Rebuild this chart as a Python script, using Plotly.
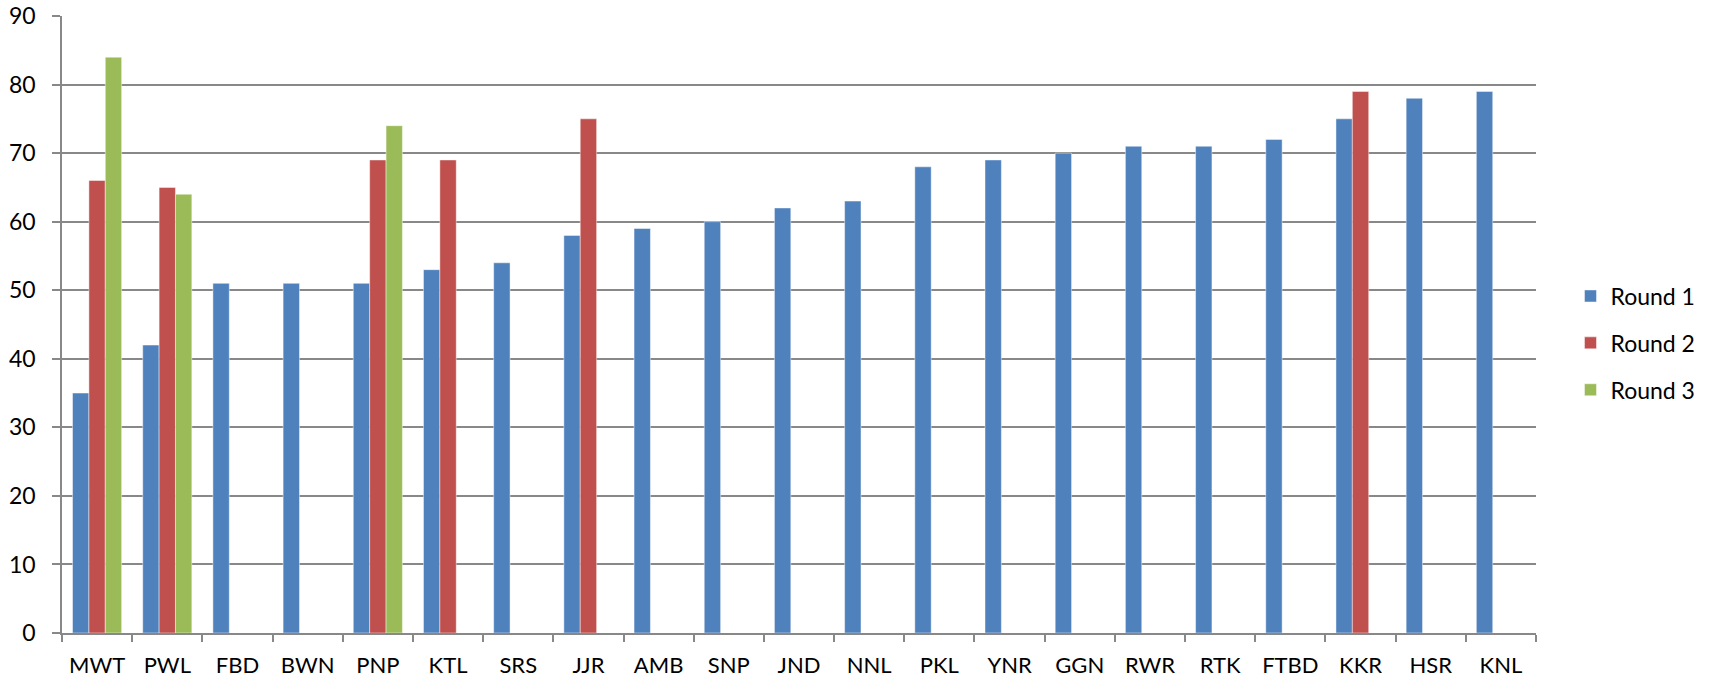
import plotly.graph_objects as go

categories = ["MWT", "PWL", "FBD", "BWN", "PNP", "KTL", "SRS", "JJR", "AMB", "SNP", "JND",
              "NNL", "PKL", "YNR", "GGN", "RWR", "RTK", "FTBD", "KKR", "HSR", "KNL"]
round1 = [35, 42, 51, 51, 51, 53, 54, 58, 59, 60, 62, 63, 68, 69, 70, 71, 71, 72, 75, 78, 79]
round2 = [66, 65, None, None, 69, 69, None, 75, None, None, None, None, None, None, None,
          None, None, None, 79, None, None]
round3 = [84, 64, None, None, 74, None, None, None, None, None, None, None, None, None, None,
          None, None, None, None, None, None]
y_ticks = [0, 10, 20, 30, 40, 50, 60, 70, 80, 90]

series = [("Round 1", round1, "#4F81BD"), ("Round 2", round2, "#C0504D"), ("Round 3", round3, "#9BBB59")]

fig = go.Figure()
for name, vals, col in series:
    fig.add_trace(go.Bar(x=categories, y=vals, name=name, legendgroup=name,
                         marker=dict(color=col, line=dict(color="rgba(255,255,255,0.45)", width=1))))

grid = "#888888"
fig.update_layout(
    width=1713, height=680,
    margin=dict(l=62, r=174, t=16, b=47),
    paper_bgcolor="white", plot_bgcolor="white",
    barmode="group", bargap=0.3, bargroupgap=0,
    font=dict(family="Lato, Liberation Sans, sans-serif", size=23, color="#000000"),
    legend=dict(x=1.0234, y=0.47, xanchor="left", yanchor="middle", traceorder="grouped",
                tracegroupgap=14, font=dict(size=23), itemwidth=30),
    showlegend=True,
)
fig.update_xaxes(type="category", showline=True, linecolor=grid, linewidth=1.5,
                 ticks="outside", ticklen=7, tickcolor=grid, tickwidth=1.5,
                 tickson="boundaries", showgrid=False, ticklabelstandoff=12, automargin=False,
                 tickfont=dict(size=22))
fig.update_yaxes(range=[0, 90], tickvals=y_ticks, showline=True, linecolor=grid, linewidth=1.5,
                 ticks="outside", ticklen=8, tickcolor=grid, tickwidth=1.5,
                 showgrid=True, gridcolor=grid, gridwidth=1.5, zeroline=False,
                 ticklabelstandoff=12, automargin=False, ticklabeloverflow="allow")

fig.write_html("out.html", config={"displayModeBar": False},
               post_script="document.body.style.margin='0';")
